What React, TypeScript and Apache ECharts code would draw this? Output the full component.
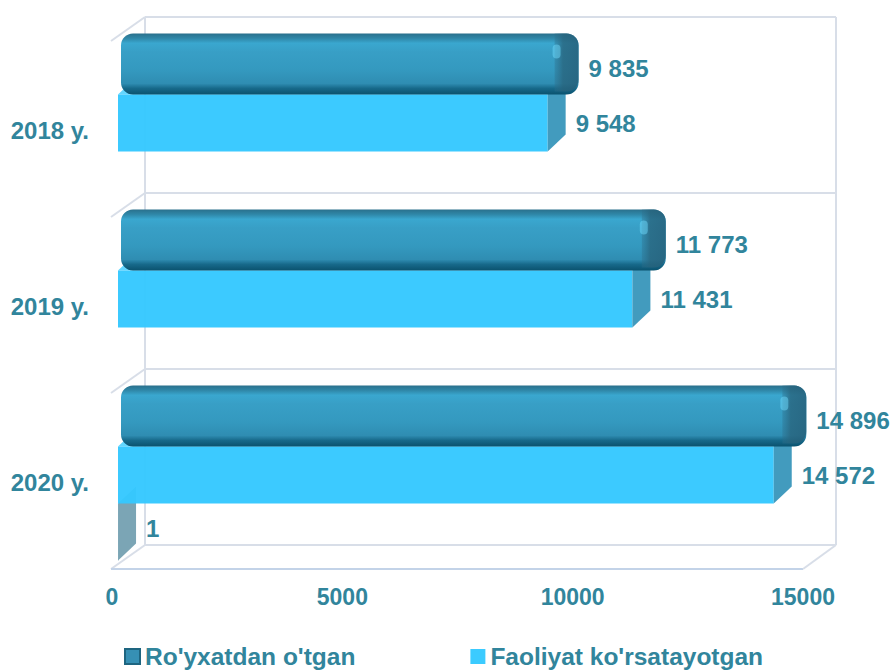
import React, { useEffect, useRef } from "react";
import * as echarts from "echarts";

const categories = ["2018 y.", "2019 y.", "2020 y."];
const registeredValues = [9835, 11773, 14896];
const activeValues = [9548, 11431, 14572];
const otherValues: (number | null)[] = [null, null, 1];
const seriesNames = ["Ro'yxatdan o'tgan", "Faoliyat ko'rsatayotgan", "Boshqa"];
const xMin = 0;
const xMax = 15000;
const xInterval = 5000;

const TEAL = "#31859C";
const FONT = '"Liberation Sans", Arial, Helvetica, sans-serif';
const WALL = "#D8DEE8";

const fmt = (v: number) => String(v).replace(/\B(?=(\d{3})+(?!\d))/g, " ");

function makeRenderer(slot: number, kind: "dark" | "light" | "gray") {
  return (_params: any, api: any) => {
    const v = api.value(0);
    const ci = api.value(1);
    if (v == null || isNaN(v)) return null;
    const end = api.coord([v, ci]);
    const start = api.coord([0, ci]);
    const band = api.size([0, 1])[1];
    const bw = band * 0.324;
    const top = end[1] - 1.5 * bw + slot * bw;
    const bottom = top + bw;
    const xv = end[0];
    const x0 = start[0];
    const DX = 18;
    const DY = -17;
    const children: any[] = [];
    let labelDy = 0;
    if (kind === "dark") {
      labelDy = 3;
      children.push({
        type: "rect",
        shape: { x: x0 + 3, y: top - 4, width: xv + DX - (x0 + 3), height: bw + 4, r: 12 },
        style: {
          fill: new echarts.graphic.LinearGradient(0, 0, 0, 1, [
            { offset: 0, color: "#2A708C" },
            { offset: 0.08, color: "#2F87A8" },
            { offset: 0.16, color: "#3AA7CF" },
            { offset: 0.3, color: "#389FC6" },
            { offset: 0.6, color: "#3499BF" },
            { offset: 0.82, color: "#2F8DB2" },
            { offset: 0.9, color: "#17698A" },
            { offset: 1, color: "#0A526E" },
          ]),
        },
      });
      children.push({
        type: "rect",
        shape: { x: xv - 6, y: top - 4, width: DX + 6, height: bw + 1, r: [0, 12, 12, 0] },
        style: {
          fill: new echarts.graphic.LinearGradient(0, 0, 1, 0, [
            { offset: 0, color: "rgba(45,110,138,0.35)" },
            { offset: 0.35, color: "rgba(40,100,125,0.8)" },
            { offset: 1, color: "rgba(38,96,122,0.85)" },
          ]),
        },
      });
      children.push({
        type: "rect",
        shape: { x: xv - 8, y: top + 7, width: 8, height: 14, r: 5 },
        style: { fill: "rgba(110,215,250,0.5)" },
      });
    } else {
      const front = kind === "light" ? "#34C8FF" : "#8DB2C0";
      const side = kind === "light" ? "#3896BA" : "#7BA5B5";
      const topFace = kind === "light" ? "#62D6FF" : "#9CC0CC";
      labelDy = kind === "gray" ? -4 : 0;
      children.push({
        type: "polygon",
        shape: { points: [[x0, top], [x0 + DX, top + DY], [xv + DX, top + DY], [xv, top]] },
        style: { fill: topFace },
      });
      children.push({
        type: "rect",
        shape: { x: x0, y: top, width: Math.max(xv - x0, 0.5), height: bw },
        style: { fill: front, opacity: kind === "light" ? 0.96 : 1 },
      });
      children.push({
        type: "polygon",
        shape: { points: [[xv, top], [xv + DX, top + DY], [xv + DX, bottom + DY], [xv, bottom]] },
        style: { fill: side, opacity: kind === "light" ? 0.95 : 1 },
      });
    }
    children.push({
      type: "text",
      x: xv + DX + 10,
      y: (top + bottom) / 2 + labelDy,
      style: {
        text: fmt(v),
        fill: TEAL,
        fontSize: 24,
        fontWeight: "bold",
        fontFamily: FONT,
        align: "left",
        verticalAlign: "middle",
      },
    });
    return { type: "group", children };
  };
}

export default function App() {
  const ref = useRef<HTMLDivElement>(null);
  useEffect(() => {
    if (!ref.current) return;
    const chart = echarts.init(ref.current, undefined, { renderer: "svg" });
    const toData = (arr: (number | null)[]) =>
      arr.map((v, i) => (v == null ? null : [v, i])).filter((d) => d !== null);
    const wallLines = [17, 193, 369, 545].map((y) => ({
      type: "line",
      z: 0,
      shape: { x1: 145, y1: y, x2: 111, y2: y + 24 },
      style: { stroke: WALL, lineWidth: 2 },
    }));
    const hidden = {
      axisLine: { show: false },
      axisTick: { show: false },
      axisLabel: { show: false },
      splitLine: { show: false },
    };
    chart.setOption({
      animation: false,
      backgroundColor: "#ffffff",
      grid: [
        { left: 118, right: 99, top: 35, bottom: 108 },
        { left: 145, right: 56, top: 17, bottom: 126 },
        { left: 112, right: 89, top: 42, bottom: 101 },
      ],
      xAxis: [
        { type: "value", gridIndex: 0, min: xMin, max: xMax, ...hidden },
        {
          type: "value",
          gridIndex: 1,
          min: 0,
          max: 1,
          interval: 1,
          ...hidden,
          splitLine: { show: true, lineStyle: { color: WALL, width: 2 } },
        },
        {
          type: "value",
          gridIndex: 2,
          min: xMin,
          max: xMax,
          interval: xInterval,
          splitLine: { show: false },
          axisLine: { show: false },
          axisTick: { show: false },
          axisLabel: {
            margin: 15,
            color: TEAL,
            fontSize: 23,
            fontWeight: "bold",
            fontFamily: FONT,
            formatter: (v: number) => String(v),
          },
        },
      ],
      yAxis: [
        { type: "category", gridIndex: 0, inverse: true, data: categories, ...hidden },
        {
          type: "value",
          gridIndex: 1,
          min: 0,
          max: 3,
          interval: 1,
          ...hidden,
          splitLine: { show: true, lineStyle: { color: WALL, width: 2 } },
        },
        {
          type: "category",
          gridIndex: 2,
          inverse: true,
          data: categories,
          axisLine: { show: false },
          axisTick: { show: false },
          splitLine: { show: false },
          axisLabel: {
            margin: 23,
            color: TEAL,
            fontSize: 24,
            fontWeight: "bold",
            fontFamily: FONT,
          },
        },
      ],
      legend: {
        data: [
          {
            name: seriesNames[0],
            itemStyle: { color: "#3690B4", borderColor: "#1E6580", borderWidth: 2 },
          },
          { name: seriesNames[1], itemStyle: { color: "#3BCBFF" } },
        ],
        icon: "rect",
        itemWidth: 15,
        itemHeight: 15,
        left: 124,
        top: 644,
        padding: 0,
        itemGap: 115,
        selectedMode: false,
        textStyle: { color: TEAL, fontSize: 24.5, fontWeight: "bold", fontFamily: FONT },
      },
      graphic: [
        ...wallLines,
        {
          type: "line",
          z: 0,
          shape: { x1: 111, y1: 569, x2: 803, y2: 569 },
          style: { stroke: "#C3D3E8", lineWidth: 2 },
        },
        {
          type: "line",
          z: 0,
          shape: { x1: 836, y1: 545, x2: 803, y2: 569 },
          style: { stroke: WALL, lineWidth: 2 },
        },
      ],
      series: [
        {
          name: seriesNames[2],
          type: "custom",
          xAxisIndex: 0,
          yAxisIndex: 0,
          z: 3,
          itemStyle: { color: "#7BA5B5" },
          renderItem: makeRenderer(2, "gray"),
          encode: { x: 0, y: 1 },
          data: toData(otherValues),
        },
        {
          name: seriesNames[1],
          type: "custom",
          xAxisIndex: 0,
          yAxisIndex: 0,
          z: 4,
          itemStyle: { color: "#3BCBFF" },
          renderItem: makeRenderer(1, "light"),
          encode: { x: 0, y: 1 },
          data: toData(activeValues),
        },
        {
          name: seriesNames[0],
          type: "custom",
          xAxisIndex: 0,
          yAxisIndex: 0,
          z: 5,
          itemStyle: { color: "#3690B4" },
          renderItem: makeRenderer(0, "dark"),
          encode: { x: 0, y: 1 },
          data: toData(registeredValues),
        },
      ],
    });
    return () => chart.dispose();
  }, []);
  return (
    <div
      ref={ref}
      style={{ position: "fixed", left: 0, top: 0, width: 892, height: 671 }}
    />
  );
}
